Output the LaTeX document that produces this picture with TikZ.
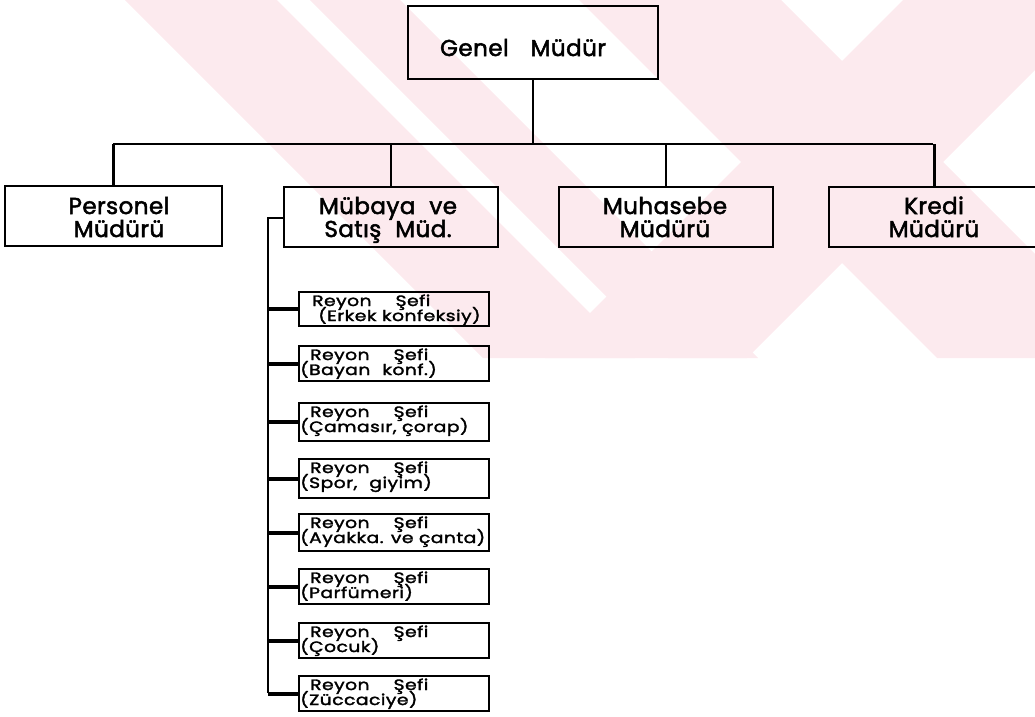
\documentclass[tikz,border=0pt]{standalone}
\usepackage{fontspec}
\setmainfont{Poppins}
\newfontfamily\headfont[FakeBold=2.2,LetterSpace=2]{Poppins}
\newfontfamily\chieffont[FakeBold=2,FakeStretch=1.25,LetterSpace=3]{Poppins}
\definecolor{wmpink}{RGB}{252,234,238}
\begin{document}
\begin{tikzpicture}[x=1pt,y=-1pt,
  box/.style={draw, line width=2pt, inner sep=0pt},
  headtext/.style={font={\headfont\fontsize{23}{23}\selectfont},
    align=center, inner sep=0pt, anchor=base},
  chieftext/.style={font={\chieffont\fontsize{15}{13}\selectfont},
    inner sep=0pt, anchor=base west},
  link/.style={line width=2.8pt},
  stub/.style={line width=4pt},
  band/.style={fill=wmpink, draw=none}]
\useasboundingbox (0,0) rectangle (1035,716);

% faint striped emblem behind the chart
\begin{scope}
  \clip (0,0) rectangle (1035,358);
  \fill[band] (125,0) -- (277,0) -- (635,358) -- (483,358) -- cycle;
  \fill[band] (310,0) -- (400,0) -- (758,358) -- (668,358) -- cycle;
  \fill[band] (579,0) -- (781,0) -- (1139,358) -- (937,358) -- cycle;
  \fill[band] (903,0) -- (1105,0) -- (747,358) -- (545,358) -- cycle;
\end{scope}

% top management
\node[box, minimum width=250pt, minimum height=73pt] (gm) at (533,42.5) {};
\node[headtext] (gmt) at (523,56) {Genel\hspace*{22pt}Müdür};

% department managers (anchor base = baseline of the second line)
\node[box, minimum width=217pt, minimum height=60pt] (per) at (113.5,216) {};
\node[headtext] (pert) at (119,237) {Personel\\Müdürü};
\node[box, minimum width=214pt, minimum height=60pt] (mub) at (391,217) {};
\node[headtext] (mubt) at (388,237) {Mübaya\hspace*{14pt}ve\\Satış\hspace*{14pt}Müd.};
\node[box, minimum width=214pt, minimum height=60pt] (muh) at (666,217) {};
\node[headtext] (muht) at (665,237) {Muhasebe\\Müdürü};
\node[box, minimum width=211pt, minimum height=60pt] (kre) at (934.5,217) {};
\node[headtext] (kret) at (934,237) {Kredi\\Müdürü};

% bus from the general manager
\coordinate (busL) at (113,144);
\coordinate (busR) at (933,144);
\draw[link] (gm.south) -- (gm.south |- busL);
\draw[link] (busL) -- (busR);
\draw[link] (per.north |- busL) -- (per.north);
\draw[link] (mub.north |- busL) -- (mub.north);
\draw[link] (muh.north |- busL) -- (muh.north);
\draw[link] (kre.north |- busL) -- (kre.north);

% department heads under purchasing and sales: title line and department line
\foreach \i/\yt/\h/\xa/\xb/\dept in {
  1/291/34/312/318/{(Erkek konfeksiy)},
  2/345/35/310/300/{(Bayan\hspace*{12pt}konf.)},
  3/402/38/310/300/{(Çamasır, çorap)},
  4/458/39/310/300/{(Spor,\hspace*{12pt}giyim)},
  5/513/37/310/300/{(Ayakka. ve çanta)},
  6/568/35/310/300/{(Parfümeri)},
  7/622/35/310/300/{(Çocuk)},
  8/675/35/310/300/{(Züccaciye)}}{
  \node[box, minimum width=190pt, minimum height=\h pt, anchor=north west] (r\i) at (298,\yt) {};
  \node[chieftext] (r\i a) at (\xa,\yt+15) {Reyon\hspace*{24pt}Şefi};
  \node[chieftext] (r\i b) at (\xb,\yt+30) {\dept};
}

\coordinate (spineTop) at (268,218);
\coordinate (spineBot) at (268,693);
\draw[link] (mub.west |- spineTop) -- (spineTop) -- (spineBot);
\foreach \i in {1,...,8}{
  \draw[stub] (spineTop |- r\i.west) -- (r\i.west);
}
\end{tikzpicture}
\end{document}
